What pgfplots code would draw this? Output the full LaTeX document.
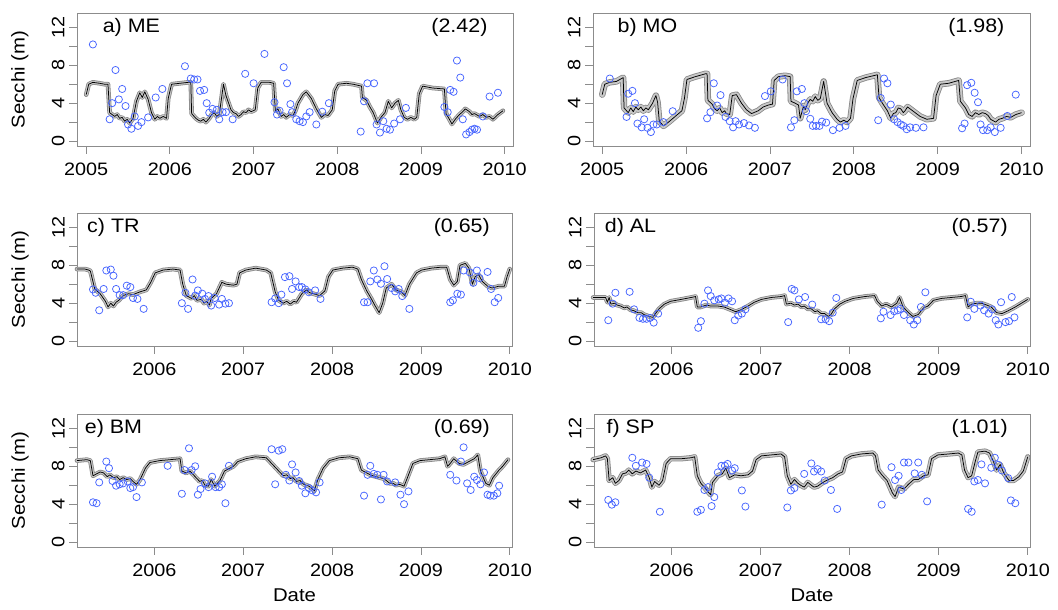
\documentclass[border=0pt]{standalone}
\usepackage{fontspec}
\setmainfont{Liberation Sans}[FakeStretch=1.1]
\usepackage{graphicx}
\usepackage{pgfplots}
\pgfplotsset{compat=1.18}
\usepackage{pgfplotstable}
\definecolor{boxgray}{RGB}{140,140,140}
\definecolor{ptblue}{RGB}{70,100,255}
\definecolor{bandedge}{RGB}{135,135,135}
\definecolor{bandfill}{RGB}{200,200,200}

\pgfplotsset{
 panel/.style={scale only axis, width=436pt, height=133pt, ymin=-0.52, ymax=13.52,
  axis line style={boxgray, line width=0.8pt}, tick style={boxgray, line width=0.8pt},
  major tick length=8pt, tick align=outside, xtick pos=bottom, ytick pos=left,
  ytick={0,2,...,12}, yticklabels={\rotatebox{90}{0},,\rotatebox{90}{4},,\rotatebox{90}{8},,\rotatebox{90}{12}},
  yticklabel style={anchor=east, xshift=-1pt},
  xticklabel style={yshift=-5pt},
  ticklabel style={font=\fontsize{18}{20}\selectfont, text=black},
  label style={font=\fontsize{18.5}{21}\selectfont},
  ylabel style={at={(axis description cs:-0.131,0.5)}, anchor=center},
  xlabel style={at={(axis description cs:0.5,-0.4135)}, anchor=base},
  clip=false, anchor=south west},
 row1/.style={xmin=2004.89, xmax=2010.10, xtick={2005,2006,2007,2008,2009,2010}, xticklabels={2005,2006,2007,2008,2009,2010}},
 row23/.style={xmin=2005.13, xmax=2010.025, xtick={2006,2007,2008,2009,2010}, xticklabels={2006,2007,2008,2009,2010}},
}
\newcommand{\band}[2][4.6]{%
 \addplot[bandedge, line width=#1pt, line join=round, line cap=round] table {#2};
 \addplot[bandfill, line width=#1pt-1.6pt, line join=round, line cap=round] table {#2};
 \addplot[black, line width=0.75pt, line join=round] table {#2};}
\newcommand{\pts}[1]{\addplot[only marks, mark=o, mark size=3.6pt, ptblue, mark options={line width=0.75pt}] table {#1};}
\newcommand{\plabel}[2]{%
 \node[font=\fontsize{19.5}{22}\selectfont, anchor=base] at (axis cs:2005.54,11.5) {#1};
 \node[font=\fontsize{19.5}{22}\selectfont, anchor=base] at (axis cs:2009.46,11.5) {#2};}

\pgfplotstableread{
x y
2005.00 4.9
2005.03 6.0
2005.08 6.2
2005.16 6.1
2005.22 6.0
2005.26 6.0
2005.28 3.0
2005.31 2.8
2005.34 2.6
2005.37 2.8
2005.40 2.4
2005.43 2.5
2005.46 2.1
2005.49 2.3
2005.52 1.9
2005.56 2.4
2005.60 4.2
2005.64 5.1
2005.67 4.6
2005.70 5.2
2005.74 4.4
2005.78 3.0
2005.82 2.3
2005.85 2.6
2005.88 2.4
2005.92 2.6
2005.96 2.4
2005.98 4.5
2006.02 6.0
2006.12 6.1
2006.22 6.2
2006.25 6.2
2006.26 2.9
2006.31 2.4
2006.34 2.2
2006.37 2.1
2006.40 2.3
2006.43 2.0
2006.47 2.4
2006.50 2.8
2006.53 3.0
2006.56 2.6
2006.59 2.8
2006.64 6.0
2006.67 4.8
2006.73 3.3
2006.76 3.0
2006.79 2.9
2006.82 2.6
2006.85 2.8
2006.88 3.1
2006.91 3.0
2006.94 3.3
2006.97 3.1
2007.02 3.3
2007.05 5.6
2007.09 6.2
2007.19 6.2
2007.24 6.1
2007.26 3.2
2007.29 3.4
2007.33 2.6
2007.36 2.8
2007.39 2.5
2007.43 2.8
2007.47 2.7
2007.50 3.2
2007.53 4.0
2007.59 4.9
2007.63 5.2
2007.69 4.5
2007.75 3.4
2007.81 2.5
2007.85 2.8
2007.89 2.7
2007.94 3.3
2007.97 5.3
2008.01 6.0
2008.11 6.1
2008.19 6.0
2008.29 5.8
2008.30 4.6
2008.35 4.3
2008.39 3.6
2008.43 3.0
2008.48 1.9
2008.53 2.6
2008.57 3.0
2008.61 4.2
2008.65 3.5
2008.69 4.0
2008.73 4.3
2008.76 3.3
2008.80 2.5
2008.84 2.3
2008.88 2.5
2008.92 2.3
2008.95 2.5
2008.98 5.0
2009.02 5.8
2009.14 5.6
2009.28 5.5
2009.30 2.9
2009.34 2.3
2009.37 1.8
2009.41 2.3
2009.46 2.8
2009.50 3.1
2009.53 3.4
2009.58 3.1
2009.61 2.8
2009.64 2.9
2009.70 2.6
2009.74 2.8
2009.78 2.5
2009.82 2.6
2009.86 2.3
2009.92 2.8
2009.98 3.2
}\lineA
\pgfplotstableread{
x y
2005.08 10.2
2005.28 2.3
2005.31 4.0
2005.35 7.5
2005.39 4.4
2005.43 5.5
2005.47 3.7
2005.50 1.75
2005.54 1.3
2005.58 2.6
2005.62 1.6
2005.66 2.0
2005.74 2.5
2005.83 4.6
2005.91 5.5
2006.18 7.9
2006.25 6.6
2006.29 6.5
2006.33 6.5
2006.36 5.3
2006.41 5.4
2006.44 4.0
2006.47 3.0
2006.51 3.4
2006.56 3.3
2006.59 2.3
2006.63 3.05
2006.67 3.05
2006.75 2.3
2006.90 7.1
2007.00 6.1
2007.13 9.2
2007.25 4.1
2007.28 2.8
2007.31 3.2
2007.36 7.8
2007.40 6.1
2007.44 3.9
2007.46 3.05
2007.51 2.3
2007.55 2.1
2007.59 2.0
2007.63 2.6
2007.67 3.05
2007.75 1.75
2007.82 3.1
2007.90 4.0
2008.28 1.0
2008.32 4.2
2008.36 6.1
2008.44 6.1
2008.47 1.75
2008.51 0.9
2008.55 2.1
2008.59 1.3
2008.63 1.2
2008.68 1.85
2008.75 2.3
2008.82 3.5
2009.28 3.6
2009.32 3.05
2009.35 5.4
2009.39 5.2
2009.43 8.5
2009.47 6.7
2009.50 2.3
2009.54 0.7
2009.58 0.95
2009.61 1.2
2009.64 1.3
2009.67 1.2
2009.74 2.6
2009.82 4.7
2009.92 5.1
}\ptsA
\pgfplotstableread{
x y
2005.00 4.9
2005.03 6.0
2005.09 6.2
2005.17 6.3
2005.25 6.7
2005.26 3.5
2005.29 3.2
2005.31 3.0
2005.34 3.5
2005.37 3.1
2005.40 3.6
2005.43 3.3
2005.46 3.6
2005.49 3.2
2005.52 3.5
2005.55 3.3
2005.60 4.0
2005.64 4.8
2005.66 4.1
2005.68 2.1
2005.73 1.6
2005.79 2.0
2005.87 2.6
2005.95 3.2
2005.98 4.5
2006.01 6.5
2006.11 6.8
2006.23 7.1
2006.25 7.1
2006.26 4.3
2006.31 3.9
2006.34 3.4
2006.37 3.2
2006.40 3.5
2006.43 3.0
2006.46 3.2
2006.48 2.9
2006.52 2.8
2006.55 4.8
2006.60 4.9
2006.66 4.0
2006.72 3.3
2006.78 2.9
2006.86 3.2
2006.92 3.6
2006.98 3.8
2007.03 3.9
2007.05 6.4
2007.10 6.8
2007.18 6.9
2007.24 6.8
2007.25 4.2
2007.30 4.0
2007.34 3.8
2007.36 2.4
2007.40 3.7
2007.42 3.3
2007.45 4.0
2007.48 4.4
2007.51 4.2
2007.54 4.7
2007.57 4.3
2007.60 4.5
2007.64 6.3
2007.68 4.0
2007.74 3.0
2007.80 2.3
2007.84 2.0
2007.88 2.2
2007.92 2.0
2007.96 2.4
2007.99 4.5
2008.04 6.4
2008.14 6.7
2008.28 7.0
2008.30 4.6
2008.34 4.0
2008.40 3.2
2008.44 2.4
2008.47 2.9
2008.50 3.0
2008.53 3.5
2008.56 3.4
2008.59 3.0
2008.61 3.2
2008.64 3.6
2008.67 3.4
2008.70 3.2
2008.73 3.0
2008.79 2.6
2008.87 2.3
2008.95 2.4
2008.98 4.8
2009.03 6.0
2009.13 6.1
2009.25 6.4
2009.27 4.2
2009.33 3.5
2009.37 2.8
2009.41 2.6
2009.45 3.0
2009.49 2.8
2009.53 3.0
2009.57 2.9
2009.60 2.7
2009.63 2.3
2009.69 2.0
2009.73 2.3
2009.77 2.4
2009.82 2.6
2009.87 2.5
2009.93 2.8
2010.00 3.0
}\lineB
\pgfplotstableread{
x y
2005.09 6.6
2005.29 2.55
2005.31 5.0
2005.36 5.3
2005.39 4.0
2005.42 1.85
2005.47 1.45
2005.50 2.3
2005.54 1.4
2005.58 0.95
2005.61 1.75
2005.65 1.75
2005.73 2.0
2005.84 3.15
2006.25 2.4
2006.29 3.05
2006.33 6.1
2006.37 3.75
2006.41 4.85
2006.47 2.55
2006.52 2.1
2006.56 1.45
2006.59 2.1
2006.63 1.75
2006.69 1.9
2006.75 1.65
2006.82 1.4
2006.94 4.75
2007.01 5.25
2007.15 6.5
2007.25 1.45
2007.29 2.2
2007.32 5.25
2007.38 5.5
2007.41 4.0
2007.43 3.15
2007.48 2.35
2007.51 1.6
2007.55 1.6
2007.59 1.6
2007.62 2.05
2007.67 1.95
2007.75 1.15
2007.83 1.4
2007.90 1.6
2008.29 2.2
2008.32 4.55
2008.36 6.6
2008.40 6.1
2008.44 3.85
2008.48 2.3
2008.52 2.0
2008.56 1.75
2008.59 1.6
2008.63 1.25
2008.67 1.45
2008.74 1.4
2008.83 1.45
2009.29 1.35
2009.32 1.85
2009.35 5.9
2009.40 6.15
2009.44 5.1
2009.48 4.1
2009.51 1.75
2009.54 1.15
2009.59 1.15
2009.63 1.45
2009.68 0.95
2009.75 1.4
2009.83 2.65
2009.93 4.9
}\ptsB
\pgfplotstableread{
x y
2005.13 7.6
2005.22 7.6
2005.26 7.5
2005.28 7.4
2005.33 5.5
2005.39 5.0
2005.45 4.2
2005.48 3.6
2005.51 4.0
2005.54 3.7
2005.57 4.1
2005.60 4.3
2005.65 4.8
2005.71 5.0
2005.76 4.9
2005.84 5.2
2005.91 5.4
2005.96 6.2
2006.01 7.2
2006.10 7.5
2006.21 7.6
2006.29 7.5
2006.32 6.0
2006.36 4.8
2006.42 4.5
2006.45 4.8
2006.48 4.3
2006.53 4.4
2006.56 4.0
2006.59 4.2
2006.62 3.8
2006.64 4.5
2006.70 5.0
2006.76 6.2
2006.81 6.0
2006.89 5.9
2006.93 6.0
2006.96 7.2
2007.03 7.5
2007.14 7.7
2007.26 7.5
2007.31 7.2
2007.36 5.2
2007.40 4.3
2007.45 4.0
2007.49 4.2
2007.53 3.9
2007.57 4.2
2007.60 4.1
2007.66 5.0
2007.71 5.4
2007.75 5.1
2007.79 5.0
2007.86 4.8
2007.92 5.3
2007.96 6.8
2008.01 7.5
2008.12 7.7
2008.23 7.8
2008.29 7.6
2008.33 6.5
2008.39 5.3
2008.44 4.5
2008.48 3.8
2008.53 3.0
2008.57 4.0
2008.61 5.6
2008.67 6.0
2008.72 5.4
2008.78 5.2
2008.82 4.8
2008.87 6.0
2008.95 7.2
2009.01 7.5
2009.12 7.7
2009.23 7.8
2009.29 7.8
2009.33 6.5
2009.37 5.9
2009.41 6.3
2009.44 8.0
2009.50 8.2
2009.54 7.7
2009.58 6.0
2009.61 6.8
2009.65 7.0
2009.69 6.3
2009.75 5.8
2009.80 5.6
2009.88 5.8
2009.94 5.8
2009.97 6.8
2010.00 7.6
}\lineC
\pgfplotstableread{
x y
2005.31 5.45
2005.34 5.1
2005.38 3.25
2005.43 5.5
2005.46 7.45
2005.51 7.55
2005.54 6.9
2005.57 5.5
2005.61 4.85
2005.65 4.85
2005.69 5.85
2005.73 5.7
2005.76 4.55
2005.81 4.45
2005.88 3.4
2006.31 4.0
2006.35 5.1
2006.38 3.4
2006.43 6.5
2006.46 4.8
2006.49 5.35
2006.54 5.0
2006.57 4.45
2006.61 4.75
2006.64 3.75
2006.68 4.55
2006.73 3.85
2006.76 4.45
2006.80 3.95
2006.84 4.0
2007.32 4.1
2007.36 4.5
2007.40 4.0
2007.43 4.9
2007.47 6.75
2007.52 6.85
2007.55 5.5
2007.59 6.3
2007.63 5.7
2007.66 5.7
2007.70 5.45
2007.74 5.15
2007.81 5.35
2007.87 4.45
2008.36 4.1
2008.40 4.1
2008.43 6.3
2008.47 7.45
2008.51 6.5
2008.55 6.05
2008.59 7.9
2008.62 6.55
2008.67 5.6
2008.71 5.25
2008.75 5.5
2008.79 4.75
2008.87 3.4
2009.33 4.1
2009.36 4.3
2009.41 5.0
2009.45 4.9
2009.48 7.45
2009.55 7.25
2009.59 6.15
2009.63 7.45
2009.66 6.65
2009.75 7.3
2009.79 5.5
2009.83 4.1
2009.87 4.55
}\ptsC
\pgfplotstableread{
x y
2005.12 4.6
2005.22 4.6
2005.26 4.6
2005.28 4.1
2005.30 4.6
2005.32 3.9
2005.36 4.0
2005.39 3.8
2005.43 3.7
2005.47 3.5
2005.50 3.6
2005.54 3.3
2005.58 3.2
2005.62 3.0
2005.66 3.0
2005.69 2.8
2005.75 2.6
2005.79 2.5
2005.82 2.9
2005.86 3.4
2005.92 3.9
2005.99 4.2
2006.11 4.4
2006.22 4.6
2006.27 4.7
2006.29 3.6
2006.33 3.6
2006.39 3.8
2006.44 3.7
2006.52 3.7
2006.59 3.6
2006.67 3.3
2006.72 3.1
2006.78 3.3
2006.86 3.7
2006.93 4.1
2007.01 4.4
2007.12 4.6
2007.23 4.7
2007.27 4.8
2007.29 3.9
2007.34 4.0
2007.38 3.8
2007.42 3.9
2007.46 3.6
2007.49 3.7
2007.53 3.4
2007.57 3.4
2007.61 3.1
2007.64 3.2
2007.68 2.9
2007.72 2.9
2007.76 2.6
2007.79 2.8
2007.83 3.4
2007.89 3.9
2007.95 4.2
2008.04 4.5
2008.17 4.7
2008.28 4.8
2008.31 4.2
2008.36 3.7
2008.41 3.9
2008.47 3.6
2008.53 4.0
2008.56 4.6
2008.60 3.6
2008.66 3.0
2008.71 2.6
2008.77 2.8
2008.83 3.5
2008.88 3.7
2008.94 4.3
2009.03 4.5
2009.14 4.6
2009.25 4.7
2009.30 4.8
2009.33 3.6
2009.37 3.9
2009.43 4.0
2009.48 4.0
2009.54 3.8
2009.59 3.6
2009.65 3.0
2009.71 2.9
2009.78 3.2
2009.86 3.6
2009.93 4.0
2010.00 4.4
}\lineD
\pgfplotstableread{
x y
2005.29 2.2
2005.34 3.95
2005.37 5.1
2005.53 5.2
2005.58 3.35
2005.64 2.45
2005.68 2.35
2005.72 2.35
2005.76 2.45
2005.80 1.95
2005.85 2.9
2006.30 1.4
2006.33 2.1
2006.37 3.95
2006.41 5.35
2006.44 4.75
2006.48 4.3
2006.53 4.4
2006.56 4.5
2006.60 4.05
2006.64 4.5
2006.68 4.2
2006.71 2.2
2006.75 2.7
2006.79 2.9
2006.83 3.35
2007.31 2.0
2007.35 5.5
2007.38 5.35
2007.43 4.4
2007.50 4.65
2007.58 3.85
2007.68 2.3
2007.73 2.3
2007.77 2.1
2007.81 3.0
2007.85 4.55
2008.35 2.4
2008.38 3.1
2008.46 2.75
2008.50 3.15
2008.54 3.25
2008.57 3.4
2008.61 2.75
2008.68 2.2
2008.72 1.75
2008.76 2.2
2008.80 3.6
2008.85 5.15
2009.32 2.5
2009.36 4.15
2009.40 3.4
2009.47 3.75
2009.51 3.25
2009.56 2.9
2009.60 3.35
2009.64 2.2
2009.67 1.75
2009.70 4.1
2009.75 2.0
2009.79 2.1
2009.82 4.65
2009.85 2.5
}\ptsD
\pgfplotstableread{
x y
2005.13 8.6
2005.24 8.7
2005.28 8.6
2005.31 7.0
2005.35 7.2
2005.39 7.4
2005.43 7.3
2005.47 6.9
2005.50 7.1
2005.54 6.8
2005.58 6.9
2005.61 6.6
2005.65 6.8
2005.69 6.6
2005.73 6.7
2005.76 6.4
2005.80 6.1
2005.84 6.6
2005.90 7.8
2005.95 8.4
2006.06 8.6
2006.18 8.7
2006.29 8.8
2006.31 7.5
2006.36 7.3
2006.40 7.5
2006.46 6.9
2006.51 6.4
2006.54 6.5
2006.57 6.0
2006.61 5.9
2006.64 6.6
2006.68 5.9
2006.74 6.5
2006.79 7.5
2006.85 7.8
2006.89 8.0
2006.94 8.5
2007.03 8.8
2007.14 9.0
2007.26 8.9
2007.34 8.1
2007.41 7.4
2007.45 7.0
2007.49 7.1
2007.53 6.7
2007.56 6.8
2007.60 6.4
2007.64 6.5
2007.68 6.1
2007.71 6.0
2007.74 5.9
2007.77 5.7
2007.80 5.4
2007.84 6.6
2007.90 7.8
2007.97 8.6
2008.08 8.9
2008.20 9.0
2008.29 8.8
2008.33 7.6
2008.39 7.3
2008.43 7.1
2008.46 7.0
2008.50 6.9
2008.54 6.8
2008.58 6.7
2008.61 6.5
2008.65 6.2
2008.69 6.2
2008.72 6.0
2008.76 6.1
2008.81 5.9
2008.84 6.6
2008.91 8.3
2008.99 8.6
2009.10 8.7
2009.21 8.8
2009.27 9.0
2009.30 8.0
2009.33 8.3
2009.37 8.8
2009.43 8.3
2009.48 8.2
2009.54 8.5
2009.60 8.8
2009.64 9.2
2009.67 7.5
2009.73 6.2
2009.77 6.0
2009.81 6.8
2009.87 7.5
2009.92 8.0
2009.98 8.7
}\lineE
\pgfplotstableread{
x y
2005.31 4.2
2005.35 4.1
2005.38 6.3
2005.46 8.5
2005.49 7.8
2005.53 6.45
2005.57 5.95
2005.61 6.1
2005.65 6.2
2005.70 6.4
2005.73 5.7
2005.76 5.8
2005.80 4.75
2005.86 6.3
2006.15 8.05
2006.31 5.1
2006.34 7.6
2006.39 9.9
2006.42 7.6
2006.46 8.0
2006.49 5.0
2006.52 5.6
2006.57 6.2
2006.61 5.8
2006.65 6.9
2006.69 5.8
2006.73 5.8
2006.76 6.1
2006.80 4.1
2006.84 8.05
2007.32 9.8
2007.36 6.1
2007.40 9.65
2007.44 9.8
2007.48 7.1
2007.52 6.5
2007.55 8.2
2007.59 7.35
2007.63 6.45
2007.66 5.95
2007.70 5.15
2007.74 5.7
2007.78 5.45
2007.82 5.25
2007.86 6.3
2008.36 4.9
2008.40 7.1
2008.43 8.05
2008.47 7.2
2008.51 7.1
2008.55 4.5
2008.58 7.1
2008.62 6.4
2008.71 6.3
2008.77 5.0
2008.81 4.0
2008.86 5.35
2009.33 7.1
2009.40 6.5
2009.45 8.5
2009.48 10.0
2009.52 6.2
2009.56 5.5
2009.60 6.9
2009.63 6.55
2009.67 6.1
2009.71 7.35
2009.75 5.0
2009.78 4.9
2009.82 4.9
2009.86 5.15
2009.88 5.95
}\ptsE
\pgfplotstableread{
x y
2005.12 8.7
2005.21 8.9
2005.26 9.1
2005.28 8.8
2005.30 6.5
2005.34 6.8
2005.37 6.2
2005.41 6.5
2005.45 7.2
2005.49 7.3
2005.52 7.6
2005.56 7.2
2005.60 7.5
2005.65 7.3
2005.71 7.6
2005.75 6.8
2005.78 5.8
2005.81 6.4
2005.86 6.0
2005.90 6.5
2005.94 8.3
2005.99 8.8
2006.11 8.8
2006.22 8.9
2006.26 9.0
2006.29 7.0
2006.33 6.2
2006.37 5.8
2006.41 5.3
2006.44 5.0
2006.46 6.3
2006.52 7.0
2006.57 7.2
2006.61 7.8
2006.65 6.8
2006.71 7.1
2006.78 7.0
2006.86 7.1
2006.91 7.5
2006.95 8.7
2007.01 9.1
2007.12 9.2
2007.23 9.3
2007.27 9.0
2007.30 7.0
2007.34 6.1
2007.38 6.6
2007.42 6.2
2007.45 6.0
2007.49 5.8
2007.53 6.3
2007.57 6.0
2007.60 5.8
2007.64 5.9
2007.70 6.3
2007.76 6.6
2007.81 6.8
2007.87 7.2
2007.92 7.4
2007.96 8.8
2008.02 9.1
2008.13 9.3
2008.26 9.4
2008.29 9.1
2008.32 7.6
2008.37 7.0
2008.42 6.5
2008.48 5.2
2008.51 4.8
2008.55 5.8
2008.61 5.6
2008.66 6.1
2008.72 6.6
2008.77 6.6
2008.83 7.0
2008.88 7.1
2008.92 8.8
2008.99 9.2
2009.11 9.3
2009.22 9.4
2009.26 9.2
2009.29 7.6
2009.33 6.8
2009.37 7.0
2009.41 8.5
2009.44 9.5
2009.52 9.6
2009.57 9.4
2009.61 8.6
2009.65 7.6
2009.69 8.2
2009.73 7.3
2009.79 6.5
2009.84 6.5
2009.90 6.9
2009.95 7.5
2010.00 9.0
}\lineF
\pgfplotstableread{
x y
2005.29 4.45
2005.33 3.95
2005.37 4.2
2005.56 8.9
2005.60 8.05
2005.67 8.4
2005.72 8.25
2005.75 6.8
2005.87 3.2
2006.29 3.2
2006.33 3.4
2006.37 5.5
2006.41 5.8
2006.45 3.8
2006.48 4.75
2006.52 7.35
2006.56 8.05
2006.60 8.05
2006.63 8.25
2006.68 7.55
2006.71 7.8
2006.79 5.45
2006.83 3.75
2007.30 3.65
2007.34 5.45
2007.38 5.7
2007.49 7.2
2007.57 8.3
2007.60 7.45
2007.64 7.7
2007.68 7.45
2007.72 6.5
2007.79 5.5
2007.86 3.5
2008.36 3.95
2008.47 7.9
2008.51 6.55
2008.55 7.0
2008.58 5.5
2008.61 8.4
2008.66 8.4
2008.73 7.25
2008.77 8.4
2008.81 7.1
2008.87 4.3
2009.33 3.5
2009.37 3.2
2009.40 6.4
2009.44 6.55
2009.48 8.2
2009.52 6.2
2009.59 7.85
2009.63 8.9
2009.67 8.15
2009.71 7.55
2009.78 6.75
2009.81 4.4
2009.86 4.1
}\ptsF

\begin{document}
\begin{tikzpicture}[x=1pt,y=1pt]
\useasboundingbox (0,0) rectangle (1058,610);
% a
\begin{axis}[panel, row1, at={(77pt,464pt)}, ylabel={Secchi (m)}]
\band{\lineA}
\pts{\ptsA}
\plabel{a) ME}{(2.42)}
\end{axis}
% b
\begin{axis}[panel, row1, at={(593pt,464pt)}, width=437pt]
\band[6.4]{\lineB}
\pts{\ptsB}
\plabel{b) MO}{(1.98)}
\end{axis}
% c
\begin{axis}[panel, row23, at={(77pt,264pt)}, width=435pt, ylabel={Secchi (m)}]
\band{\lineC}
\pts{\ptsC}
\plabel{c) TR}{(0.65)}
\end{axis}
% d
\begin{axis}[panel, row23, at={(594pt,264pt)}]
\band{\lineD}
\pts{\ptsD}
\plabel{d) AL}{(0.57)}
\end{axis}
% e
\begin{axis}[panel, row23, at={(77pt,63pt)}, width=435pt, ylabel={Secchi (m)}, xlabel={Date}]
\band{\lineE}
\pts{\ptsE}
\plabel{e) BM}{(0.69)}
\end{axis}
% f
\begin{axis}[panel, row23, at={(594pt,63pt)}, xlabel={Date}]
\band[5.4]{\lineF}
\pts{\ptsF}
\plabel{f) SP}{(1.01)}
\end{axis}
\end{tikzpicture}
\end{document}
